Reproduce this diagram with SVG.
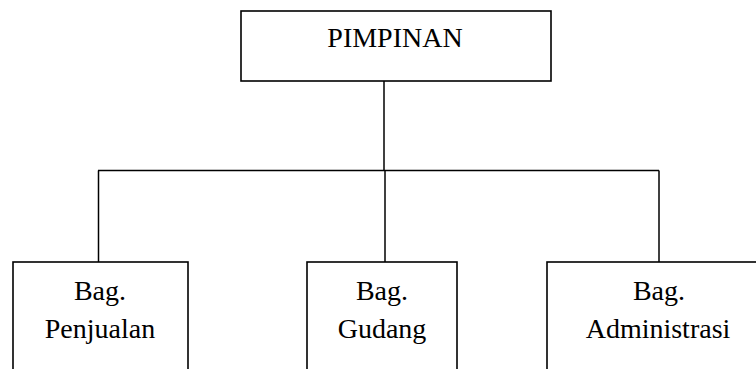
<svg xmlns="http://www.w3.org/2000/svg" width="756" height="369" viewBox="0 0 756 369">
<style>
.box{fill:#fff;stroke:#000;stroke-width:1.6}
.ln{fill:none;stroke:#000;stroke-width:1.5}
.t{font-family:'Liberation Serif','Tinos','DejaVu Serif',serif;font-size:28px;fill:#000;text-anchor:middle}
</style>
<rect width="756" height="369" fill="#fff"/>
<g id="connectors">
<line class="ln" x1="384" y1="81" x2="384" y2="170.5"/>
<line class="ln" x1="98" y1="170.5" x2="659" y2="170.5"/>
<line class="ln" x1="98.5" y1="170.5" x2="98.5" y2="262"/>
<line class="ln" x1="385" y1="170.5" x2="385" y2="262"/>
<line class="ln" x1="659" y1="170.5" x2="659" y2="262"/>
</g>
<g id="pimpinan">
<rect class="box" x="241" y="11" width="310" height="70"/>
<text class="t" x="395" y="47" font-family="Liberation Serif, serif">PIMPINAN</text>
</g>
<g id="penjualan">
<rect class="box" x="13" y="262" width="175" height="120"/>
<text class="t" x="100" y="300">Bag.</text>
<text class="t" x="100" y="338">Penjualan</text>
</g>
<g id="gudang">
<rect class="box" x="307" y="262" width="150" height="120"/>
<text class="t" x="382" y="300">Bag.</text>
<text class="t" x="382" y="338">Gudang</text>
</g>
<g id="administrasi">
<rect class="box" x="547" y="262" width="230" height="120"/>
<text class="t" x="659" y="300">Bag.</text>
<text class="t" x="658" y="338">Administrasi</text>
</g>
</svg>
